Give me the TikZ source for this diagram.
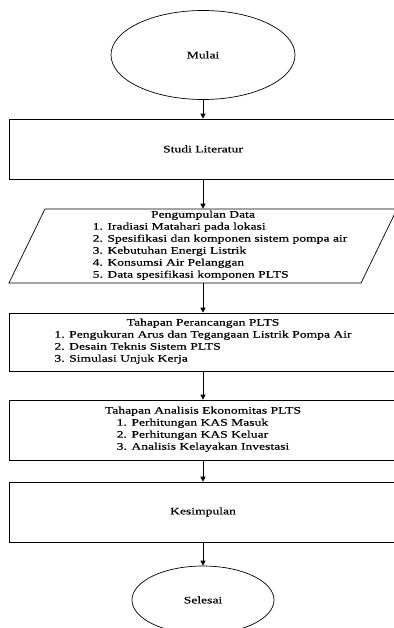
\documentclass[tikz,border=0pt]{standalone}
\usepackage{fontspec}
\setmainfont{Liberation Serif}[FakeStretch=1.36, FakeBold=0.4]
\usetikzlibrary{shapes.geometric, arrows.meta}

\begin{document}
\begin{tikzpicture}[
            x = 1pt, y = -1pt,
            font = \fontsize{10}{12}\selectfont,
            term/.style = {draw, ellipse, line width = 0.7pt, inner sep = 0mm},
            box/.style = {draw, rectangle, line width = 0.7pt, inner sep = 0mm, minimum width = 388pt, minimum height = 60pt, align = center},
            io/.style = {draw, trapezium, trapezium left angle = 63, trapezium right angle = 117, trapezium stretches body, line width = 0.7pt, inner sep = 0mm, minimum width = 388pt, minimum height = 74pt, align = center},
            arr/.style = {draw, line width = 0.8pt, -{Triangle[length = 5pt, width = 5pt]}},
        ]
        \useasboundingbox (0,0) rectangle (393,628);

        \node (MULAI) [term, minimum width = 184pt, minimum height = 89pt] at (203, 55) {Mulai};
        \node (STUDI) [box] at (203, 149) {Studi Literatur};
        \node (DATA) [io] at (203, 246) {Pengumpulan Data\\
            \hspace*{34pt}\begin{tabular}[t]{@{}l@{}}
                1. Iradiasi Matahari pada lokasi\\
                2. Spesifikasi dan komponen sistem pompa air\\
                3. Kebutuhan Energi Listrik\\
                4. Konsumsi Air Pelanggan\\
                5. Data spesifikasi komponen PLTS
            \end{tabular}};
        \node (RANCANG) [box, minimum height = 58pt] at (203, 342) {Tahapan Perancangan PLTS\\
            \begin{tabular}[t]{@{}l@{}}
                1. Pengukuran Arus dan Tegangaan Listrik Pompa Air\\
                2. Desain Teknis Sistem PLTS\\
                3. Simulasi Unjuk Kerja
            \end{tabular}};
        \node (EKONOMI) [box] at (203, 430) {Tahapan Analisis Ekonomitas PLTS\\
            \begin{tabular}[t]{@{}l@{}}
                1. Perhitungan KAS Masuk\\
                2. Perhitungan KAS Keluar\\
                3. Analisis Kelayakan Investasi
            \end{tabular}};
        \node (SIMPUL) [box] at (203, 512) {Kesimpulan};
        \node (SELESAI) [term, minimum width = 142pt, minimum height = 68pt] at (203, 600) {Selesai};

        \path[arr] (MULAI) -- (STUDI);
        \path[arr] (STUDI) -- (DATA);
        \path[arr] (DATA.south -| RANCANG.north) -- (RANCANG.north);
        \path[arr] (RANCANG) -- (EKONOMI);
        \path[arr] (EKONOMI) -- (SIMPUL);
        \path[arr] (SIMPUL) -- (SELESAI);
    \end{tikzpicture}
\end{document}
